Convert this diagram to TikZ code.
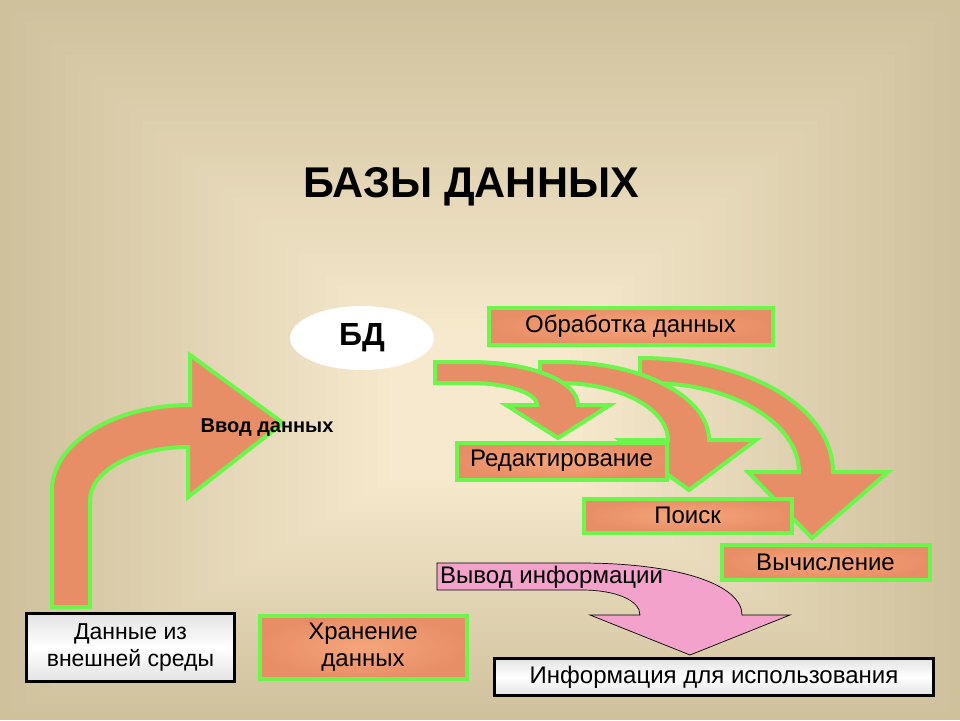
\documentclass[tikz,border=0pt]{standalone}
\usepackage{fontspec}
\setmainfont{Liberation Sans}
\usetikzlibrary{shapes.geometric}

\definecolor{bgedge}{HTML}{CFC19C}
\definecolor{bgmid}{HTML}{F6E9CD}
\definecolor{orangefill}{HTML}{E88E66}
\definecolor{orangelight}{HTML}{F5A57C}
\definecolor{greenline}{HTML}{6CF54A}
\definecolor{pinkfill}{HTML}{F3A2CB}

\tikzset{
  stepbox/.style={draw=greenline, line width=4pt, inner color=orangelight, outer color=orangefill,
    align=center, inner sep=0pt, font=\fontsize{24}{27}\selectfont},
  greybox/.style={draw=black, line width=3.5pt, top color=gray!22, bottom color=gray!22, middle color=white,
    align=center, inner sep=0pt, font=\fontsize{23}{27}\selectfont},
  bendarrow/.style={draw=greenline, line width=4pt, fill=orangefill, line join=miter},
}

\begin{document}
\begin{tikzpicture}[x=1pt,y=-1pt]
      % background
      \fill[bgedge] (0,0) rectangle (960,720);
      \foreach \i in {1,...,30}
        \fill[bgmid!\the\numexpr\i*100/30\relax!bgedge] (13*\i,11*\i) rectangle (960-13*\i,720-8*\i);
      \useasboundingbox (0,0) rectangle (960,720);
      \node[font=\bfseries\fontsize{43}{50}\selectfont] (title) at (471,187) {БАЗЫ ДАННЫХ};
      % input arrow
      \filldraw[bendarrow] (52,607) -- (52,490) .. controls (52,443) and (114,405) .. (190,405)
        -- (190,355) -- (283,423) -- (188,497) -- (188,447)
        .. controls (134,447) and (90,471) .. (90,500) -- (90,607) -- cycle;
      \node[font=\bfseries\fontsize{20}{24}\selectfont] (vvod) at (267,428) {Ввод данных};
      \node[ellipse, fill=white, minimum width=144pt, minimum height=64pt, inner sep=0pt,
        font=\bfseries\fontsize{32}{36}\selectfont] (bd) at (362,338) {БД};
      % processing arrows
      \filldraw[bendarrow] (640,358) .. controls (751,358) and (833,409) .. (833,472)
        -- (888,472) -- (812,538) -- (748,472) -- (799,472)
        .. controls (799,423) and (732,383) .. (650,383) -- (640,383) -- cycle;
      \filldraw[bendarrow] (540,362) -- (560,362) .. controls (642,362) and (709,397) .. (709,440)
        -- (756,440) -- (689,490) -- (620,440) -- (668,440)
        .. controls (668,409) and (620,383) .. (560,383) -- (540,383) -- cycle;
      \filldraw[bendarrow] (435,362) -- (470,362) .. controls (530,362) and (578,381) .. (578,405)
        -- (610,405) -- (558,438) -- (506,405) -- (537,405)
        .. controls (537,393) and (507,383) .. (470,383) -- (435,383) -- cycle;
      \node[stepbox, minimum width=284pt, minimum height=37pt] (obrab) at (630.5,326) {Обработка данных};
      \node[stepbox, minimum width=210pt, minimum height=37pt] (redakt) at (561.5,461) {Редактирование};
      \node[stepbox, minimum width=208pt, minimum height=34pt] (poisk) at (687.5,515.5) {Поиск};
      \node[stepbox, minimum width=208pt, minimum height=35pt] (vychisl) at (825.5,562) {Вычисление};
      % storage and sources
      \node[greybox, minimum width=208pt, minimum height=68pt] (dannye) at (130.5,647.5) {Данные из\\внешней среды};
      \node[stepbox, minimum width=207pt, minimum height=63pt] (hranenie) at (363,647) {Хранение\\данных};
      % output arrow
      \filldraw[draw=black, line width=0.7pt, fill=pinkfill] (437,563) -- (580,563)
        .. controls (680,563) and (742,585) .. (742,615) -- (790,615) -- (690,655) -- (590,615) -- (640,615)
        .. controls (640,600) and (615,590) .. (582,590) -- (437,590) -- cycle;
      \node[anchor=west, inner sep=0pt, font=\fontsize{24}{27}\selectfont] (vyvod) at (440,577) {Вывод информации};
      \node[greybox, minimum width=439pt, minimum height=37pt, font=\fontsize{24}{27}\selectfont] (info) at (714,677) {Информация для использования};
\end{tikzpicture}
\end{document}
